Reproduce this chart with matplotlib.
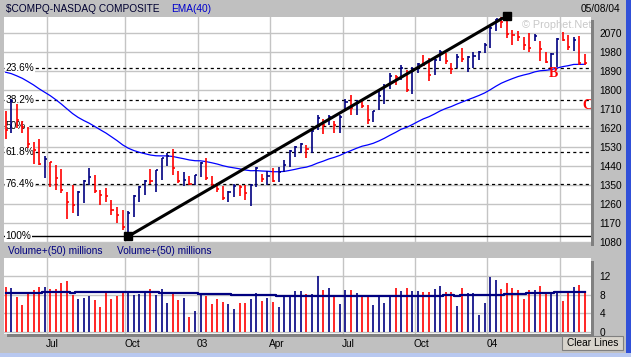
import matplotlib
matplotlib.use("Agg")
import matplotlib.pyplot as plt
from matplotlib.patches import Rectangle
import pandas as pd

plt.rcParams['font.family'] = ['Liberation Sans', 'DejaVu Sans']

# weekly bars (Monday of each week), May 2002 - May 2004
weeks = pd.date_range('2002-05-06', periods=105, freq='7D')

highs = [1700, 1760, 1735, 1655, 1625, 1555, 1570, 1490, 1462, 1446,
         1427, 1319, 1350, 1322, 1375, 1432, 1399, 1328, 1337, 1282,
         1247, 1233, 1230, 1302, 1345, 1375, 1427, 1423, 1480, 1505,
         1521, 1416, 1414, 1394, 1400, 1460, 1477, 1394, 1362, 1347,
         1322, 1355, 1350, 1351, 1355, 1435, 1405, 1419, 1430, 1438,
         1470, 1515, 1535, 1552, 1541, 1608, 1684, 1663, 1684, 1657,
         1684, 1758, 1779, 1752, 1758, 1731, 1704, 1806, 1831, 1880,
         1872, 1918, 1896, 1912, 1930, 1967, 1951, 1951, 1991, 1978,
         1928, 1970, 1999, 1965, 1983, 1986, 2024, 2103, 2140, 2150,
         2154, 2087, 2083, 2055, 2071, 2067, 2035, 1984, 1977, 2050,
         2077, 2064, 2055, 2056, 1972]
lows = [1570, 1600, 1620, 1600, 1525, 1450, 1445, 1385, 1340, 1327,
        1313, 1192, 1218, 1204, 1266, 1351, 1315, 1255, 1272, 1209,
        1171, 1138, 1108, 1200, 1272, 1305, 1356, 1319, 1375, 1440,
        1400, 1361, 1347, 1351, 1351, 1391, 1375, 1336, 1319, 1280,
        1270, 1296, 1300, 1280, 1253, 1340, 1367, 1351, 1367, 1367,
        1414, 1438, 1486, 1505, 1478, 1502, 1612, 1594, 1636, 1597,
        1600, 1711, 1684, 1684, 1716, 1641, 1652, 1708, 1737, 1804,
        1825, 1851, 1793, 1785, 1880, 1915, 1845, 1872, 1940, 1927,
        1877, 1904, 1936, 1888, 1904, 1945, 1977, 2000, 2079, 2096,
        2048, 2016, 2032, 1993, 1984, 2032, 1940, 1929, 1908, 1913,
        2035, 1993, 1988, 1921, 1921]
closes = [1611, 1751, 1660, 1626, 1545, 1515, 1451, 1473, 1458, 1384,
          1329, 1272, 1258, 1316, 1371, 1391, 1325, 1305, 1301, 1231,
          1209, 1150, 1220, 1298, 1341, 1371, 1369, 1421, 1479, 1489,
          1432, 1372, 1375, 1358, 1397, 1457, 1386, 1352, 1331, 1292,
          1320, 1348, 1340, 1315, 1350, 1432, 1380, 1394, 1369, 1415,
          1445, 1513, 1530, 1548, 1520, 1605, 1670, 1637, 1676, 1635,
          1673, 1744, 1718, 1741, 1725, 1660, 1700, 1775, 1820, 1868,
          1862, 1905, 1803, 1890, 1925, 1922, 1875, 1942, 1980, 1940,
          1903, 1960, 1947, 1959, 1961, 1980, 2016, 2096, 2138, 2124,
          2066, 2060, 2053, 2016, 2000, 2058, 1995, 1935, 1970, 2045,
          2040, 2006, 2040, 1930, 1928]
prev_close = 1623
ema_start = 1900

volume = [9.6, 9.4, 7.5, 5.8, 8.5, 9.0, 9.6, 9.6, 9.2, 9.2,
          10.4, 10.8, 7.9, 7.1, 7.2, 7.6, 6.8, 5.4, 8.4, 7.0,
          7.7, 8.3, 8.5, 7.9, 8.1, 8.3, 9.2, 7.9, 9.1, 6.3,
          8.1, 6.8, 7.2, 3.3, 4.6, 8.2, 7.7, 6.0, 7.1, 6.4,
          6.1, 5.0, 6.3, 6.3, 7.1, 8.3, 6.7, 7.2, 6.5, 5.4,
          7.5, 7.7, 8.75, 8.75, 8.1, 8.2, 12.0, 9.0, 9.4, 7.7,
          6.1, 9.0, 9.0, 8.3, 7.7, 7.9, 5.8, 7.9, 6.3, 7.7,
          9.4, 8.75, 9.4, 8.75, 8.75, 8.5, 8.5, 9.2, 9.8, 8.5,
          8.5, 5.6, 9.4, 8.3, 8.3, 3.75, 6.25, 11.7, 11.2, 9.2,
          10.4, 9.4, 9.0, 7.1, 9.0, 9.0, 9.8, 8.3, 8.3, 8.75,
          6.7, 8.75, 9.6, 10.0, 8.3]
vol_avg = [8.4, 8.4, 8.4, 8.4, 8.4, 8.4, 8.4, 8.6, 8.6, 8.6,
           8.6, 8.6, 8.4, 8.6, 8.6, 8.6, 8.6, 8.6, 8.5, 8.5,
           8.5, 8.5, 8.5, 8.5, 8.5, 8.5, 8.5, 8.5, 8.4, 8.4,
           8.4, 8.4, 8.4, 8.4, 8.4, 8.2, 8.2, 8.2, 8.2, 8.2,
           8.2, 7.9, 7.9, 7.9, 7.9, 7.9, 7.9, 7.9, 7.9, 7.7,
           7.7, 7.7, 7.7, 7.7, 7.7, 7.6, 7.6, 7.6, 7.6, 7.6,
           7.6, 7.6, 7.6, 7.6, 7.6, 7.6, 7.6, 7.6, 7.6, 7.6,
           7.6, 7.6, 7.6, 7.6, 7.6, 7.6, 7.6, 7.6, 7.6, 7.9,
           7.9, 7.6, 7.9, 7.9, 7.9, 7.9, 7.9, 8.0, 8.0, 8.0,
           8.1, 8.1, 8.1, 8.1, 8.3, 8.3, 8.3, 8.3, 8.3, 8.5,
           8.5, 8.5, 8.5, 8.5, 8.5]

fib_low, fib_high = 1108, 2154
fib_low_week, fib_high_week = 22, 90
fib_pcts = [23.6, 38.2, 50, 61.8, 76.4, 100]
price_ticks = list(range(1080, 2071, 90))
vol_ticks = [0, 4, 8, 12]

NAVY = '#000080'
RED = '#FF0000'
GRID = '#C4C4C4'

x = list(range(len(weeks)))
prev = [prev_close] + closes[:-1]
cols = [NAVY if c > p else RED for c, p in zip(closes, prev)]
ema = pd.Series([ema_start] + closes).ewm(span=40, adjust=False).mean().values[1:]

# quarter gridlines: boundary before first week starting in Jan/Apr/Jul/Oct
grid_x, grid_lab = [], []
for k in range(1, len(weeks)):
    if weeks[k].month != weeks[k - 1].month and weeks[k].month in (1, 4, 7, 10):
        grid_x.append(k - 0.5)
        grid_lab.append(weeks[k].strftime('%y') if weeks[k].month == 1 else weeks[k].strftime('%b'))

W, H = 631, 357
fig = plt.figure(figsize=(W / 100, H / 100), dpi=100, facecolor='#C0C0C0')


def box(x0, y0, x1, y1):
    return [x0 / W, 1 - y1 / H, (x1 - x0) / W, (y1 - y0) / H]


def ftext(px, py, s, **kw):
    fig.text(px / W, 1 - py / H, s, **kw)


# shadows
for r in [box(591, 19.5, 594, 246), box(591, 261, 594, 337), box(7, 334, 594, 337)]:
    fig.add_artist(Rectangle((r[0], r[1]), r[2], r[3], transform=fig.transFigure,
                             facecolor='#808080', edgecolor='none'))

# ---- price panel
ax = fig.add_axes(box(4, 16.5, 591, 243.3))
ax.set_facecolor('white')
ax.set_xlim(-0.3, 105.1)
ax.set_ylim(1075, 2150)
for s in ax.spines.values():
    s.set_visible(False)
ax.yaxis.tick_right()
ax.set_yticks(price_ticks)
ax.set_xticks(grid_x)
ax.set_xticklabels([])
ax.tick_params(axis='both', length=0)
ax.tick_params(axis='y', pad=6, labelsize=7.3)
ax.grid(True, color=GRID, lw=1.0, zorder=0)
ax.set_axisbelow(True)

ax.text(99, 2109, '\u00a9 Prophet.Net', color='#C8C8C8', fontsize=7.8,
        ha='center', va='center', zorder=1)

for pct in fib_pcts:
    lvl = fib_high - pct / 100 * (fib_high - fib_low)
    if pct == 100:
        ax.axhline(lvl, color='black', lw=1.0, zorder=2)
    else:
        ax.axhline(lvl, color='black', lw=0.9, ls=(0, (2.5, 2.5)), zorder=2)
    ax.text(0.003, lvl, '%g%%' % pct, transform=ax.get_yaxis_transform(),
            fontsize=7.3, ha='left', va='center', zorder=2.5,
            bbox=dict(facecolor='white', edgecolor='none', pad=0.6))

ax.plot(x, ema, color='#0000FF', lw=0.9, zorder=3)
ax.vlines(x, lows, highs, colors=cols, lw=1.2, zorder=4)
ax.hlines(closes, [i for i in x], [i + 0.38 for i in x], colors=cols, lw=1.2, zorder=4)

ax.plot([fib_low_week, fib_high_week], [fib_low, fib_high], color='black', lw=2.2,
        zorder=5, solid_capstyle='butt')
ax.plot([fib_low_week, fib_high_week], [fib_low, fib_high], ls='none', marker='s',
        markersize=5.5, color='black', zorder=6, clip_on=False)

ax.text(98.3, 1882, 'B', color=RED, fontsize=10, fontweight='bold',
        family='Liberation Serif', ha='center', va='center', zorder=6)
ax.text(104.5, 1726, 'C', color=RED, fontsize=10, fontweight='bold',
        family='Liberation Serif', ha='center', va='center', zorder=6, clip_on=False)

# ---- volume panel
axv = fig.add_axes(box(4, 258.3, 591, 334))
axv.set_facecolor('white')
axv.set_xlim(-0.3, 105.1)
axv.set_ylim(-0.36, 15.7)
for s in axv.spines.values():
    s.set_visible(False)
axv.yaxis.tick_right()
axv.set_yticks(vol_ticks)
axv.set_xticks(grid_x)
axv.set_xticklabels([])
axv.tick_params(axis='both', length=0)
axv.tick_params(axis='y', pad=6, labelsize=7.3)
axv.grid(True, color=GRID, lw=1.0, zorder=0)
axv.set_axisbelow(True)
axv.vlines(x, 0, volume, colors=cols, lw=1.2, zorder=3)
axv.plot(x, vol_avg, color=NAVY, lw=1.6, drawstyle='steps-mid', zorder=4)

# month labels; the last quarter's label sits under the "Clear Lines" button
for gx, lab in zip(grid_x, grid_lab):
    if gx > 98:
        continue
    axv.text(gx - 0.2, -0.13, lab, transform=axv.get_xaxis_transform(), fontsize=7.3,
             ha='left', va='center', clip_on=False)

# ---- header texts
ftext(6, 8.5, '$COMPQ-NASDAQ COMPOSITE', fontsize=7.3, color='#000030', va='center')
ftext(171, 8.5, 'EMA(40)', fontsize=7.3, color='#0000CC', va='center')
ftext(620, 8.5, '05/08/04', fontsize=7.3, color='black', va='center', ha='right')
ftext(8, 251, 'Volume+(50) millions', fontsize=7.3, color=NAVY, va='center')
ftext(117, 251, 'Volume+(50) millions', fontsize=7.3, color=NAVY, va='center')

# button and window edges
b = box(562, 336, 623, 350)
fig.add_artist(Rectangle((b[0], b[1]), b[2], b[3], transform=fig.transFigure,
                         facecolor='#D8D4CC', edgecolor='#808080', lw=0.8, zorder=5))
ftext(592.5, 343, 'Clear Lines', fontsize=7.3, color='black', ha='center', va='center', zorder=6)
fig.add_artist(Rectangle((626 / W, 0), 5 / W, 1, transform=fig.transFigure,
                         facecolor='#3050D8', edgecolor='none'))
fig.add_artist(Rectangle((0, 0), 1, 4 / H, transform=fig.transFigure,
                         facecolor='#B8C8F0', edgecolor='none'))

fig.savefig('out.png', dpi=100, facecolor=fig.get_facecolor())
